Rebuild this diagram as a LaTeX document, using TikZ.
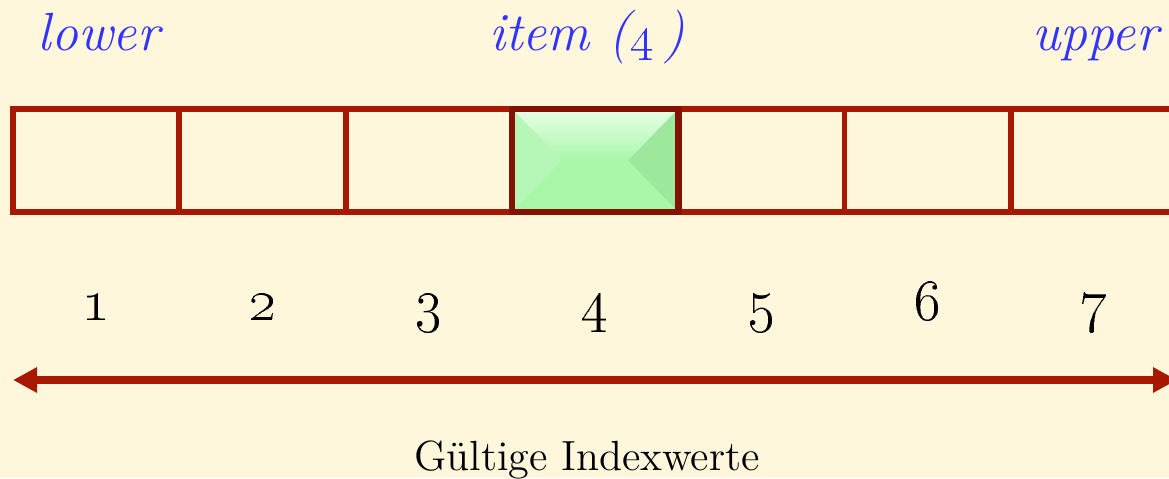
\documentclass[tikz,border=0pt]{standalone}
\usepackage{tikz}
\usetikzlibrary{arrows.meta,positioning,calc}
\definecolor{paper}{RGB}{255,247,220}
\definecolor{boxred}{RGB}{168,24,0}
\definecolor{darkred}{RGB}{130,18,4}
\definecolor{labelblue}{RGB}{51,51,255}
\definecolor{hitgreen}{RGB}{170,247,170}
\definecolor{hitlight}{RGB}{232,255,232}
\definecolor{hitleft}{RGB}{182,246,182}
\definecolor{hitright}{RGB}{158,232,158}

\tikzset{
  cell/.style={draw=boxred, line width=1.7pt, minimum width=1.663cm,
    minimum height=1.03cm, inner sep=0pt, outer sep=0pt},
  idx/.style={anchor=base, inner sep=0pt, font=\fontsize{16.5}{18}\selectfont},
  lbl/.style={anchor=base, inner sep=0pt, text=labelblue, font=\fontsize{15.3}{18}\selectfont\itshape},
  rangetip/.tip={Triangle[length=0.24cm,width=0.24cm]}
}

\begin{document}
\begin{tikzpicture}
% paper and frame
\fill[paper] (0,0) rectangle (11.69,4.78);
\useasboundingbox (0,0) rectangle (11.69,4.78);
\clip (0,0) rectangle (11.69,4.78);

% the seven cells
\foreach \i in {1,...,7}
    \node[cell] (c\i) at ({0.13+1.663*(\i-0.5)},3.175) {};

% highlighted cell 4
\fill[hitgreen] (c4.south west) rectangle (c4.north east);
\shade[top color=hitlight, bottom color=hitgreen]
    (c4.north west) -- (c4.north east) -- ($(c4.east)+(-0.5,0)$) -- ($(c4.west)+(0.5,0)$) -- cycle;
\fill[hitleft]
    (c4.north west) -- ($(c4.west)+(0.5,0)$) -- (c4.south west) -- cycle;
\fill[hitright]
    (c4.north east) -- ($(c4.east)+(-0.5,0)$) -- (c4.south east) -- cycle;
\draw[darkred, line width=1.9pt] (c4.south west) rectangle (c4.north east);

% index numbers
\foreach \i in {1,...,7}
    \node[idx] (n\i) at ($(c\i.center)+(0,-1.595)$) {\oldstylenums{\i}};

% range arrow
\coordinate (al) at (0.13,0.98);
\coordinate (ar) at (11.77,0.98);
\draw[boxred, line width=2.2pt, rangetip-rangetip] (al) -- (ar);

% labels
\node[lbl, anchor=base west] (lower) at (0.37,4.28) {lower};
\node[lbl] (item) at (5.87,4.28) {item (\oldstylenums{4}\,)};
\node[lbl, anchor=base east] (upper) at (11.59,4.28) {upper};
\node[anchor=base, font=\fontsize{12}{14}\selectfont] (valid) at (5.87,0.08) {Gültige Indexwerte};
\end{tikzpicture}
\end{document}
